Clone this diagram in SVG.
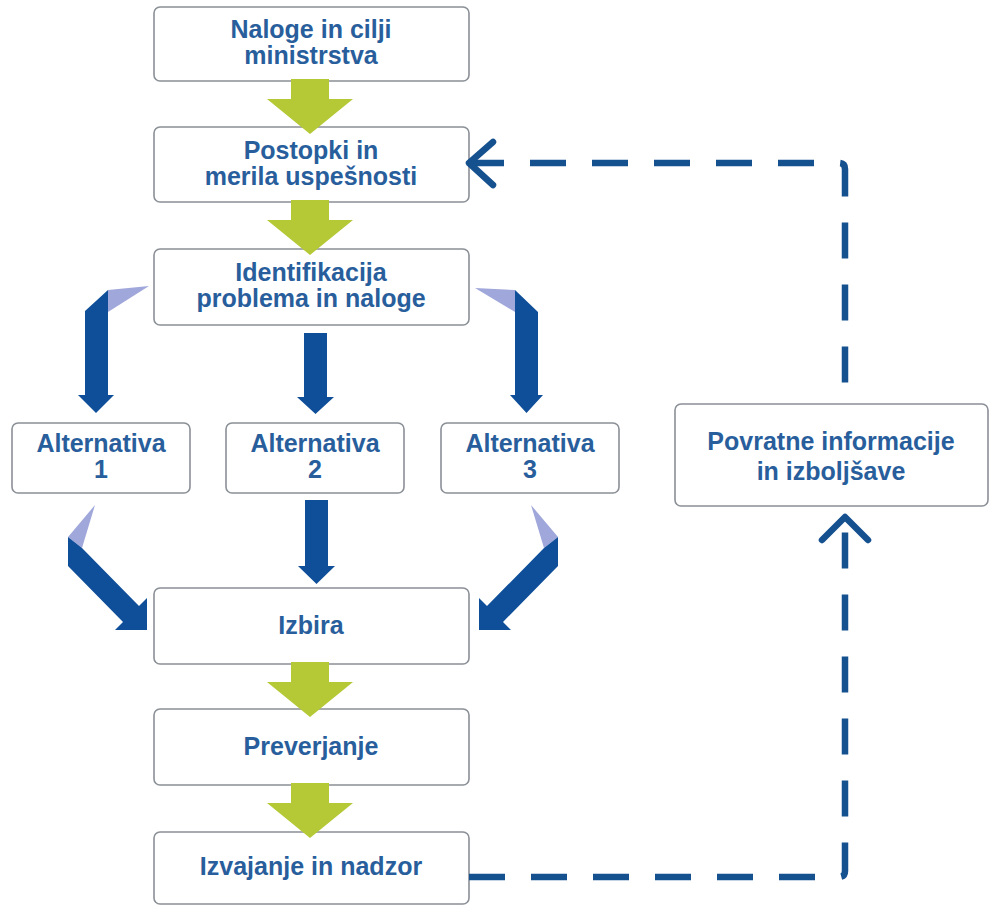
<svg xmlns="http://www.w3.org/2000/svg" width="996" height="906" viewBox="0 0 996 906">
  <style>
    .box { fill: #ffffff; stroke: #8b9097; stroke-width: 1.6; }
    .lbl { font-family: "Liberation Sans", Arial, sans-serif; font-weight: bold; font-size: 25px; fill: #285e9c; text-anchor: middle; }
    .green { fill: #b5c936; }
    .blue { fill: #0f4f99; }
    .fold { fill: #a0a7da; }
    .dash { fill: none; stroke: #15508f; stroke-width: 6.5; stroke-dasharray: 36 26; }
    .chev { fill: none; stroke: #15508f; stroke-width: 6.5; stroke-linecap: round; stroke-linejoin: round; }
  </style>
  <defs>
    <!-- wide lime arrow between stacked steps; origin = top centre of shaft -->
    <path id="greenArrow" d="M-19,0 H19 V20 H43 L0,55 L-43,20 H-19 Z"/>
  </defs>
  <rect width="996" height="906" fill="#ffffff"/>

  <g id="naloge">
    <rect class="box" x="154" y="7" width="315" height="74" rx="6"/>
    <text class="lbl" x="311" y="38">Naloge in cilji</text>
    <text class="lbl" x="311" y="64">ministrstva</text>
  </g>
  <g id="postopki">
    <rect class="box" x="154" y="127" width="315" height="75" rx="6"/>
    <text class="lbl" x="311" y="159">Postopki in</text>
    <text class="lbl" x="311" y="185">merila uspešnosti</text>
  </g>
  <g id="identifikacija">
    <rect class="box" x="154" y="249" width="315" height="76" rx="6"/>
    <text class="lbl" x="311" y="281">Identifikacija</text>
    <text class="lbl" x="311" y="307">problema in naloge</text>
  </g>
  <g id="alt1">
    <rect class="box" x="12" y="423" width="178" height="70" rx="6"/>
    <text class="lbl" x="101" y="452">Alternativa</text>
    <text class="lbl" x="101" y="478">1</text>
  </g>
  <g id="alt2">
    <rect class="box" x="226" y="423" width="178" height="70" rx="6"/>
    <text class="lbl" x="315" y="452">Alternativa</text>
    <text class="lbl" x="315" y="478">2</text>
  </g>
  <g id="alt3">
    <rect class="box" x="441" y="423" width="178" height="70" rx="6"/>
    <text class="lbl" x="530" y="452">Alternativa</text>
    <text class="lbl" x="530" y="478">3</text>
  </g>
  <g id="povratne">
    <rect class="box" x="675" y="404" width="313" height="102" rx="6"/>
    <text class="lbl" x="831" y="450">Povratne informacije</text>
    <text class="lbl" x="831" y="480">in izboljšave</text>
  </g>
  <g id="izbira">
    <rect class="box" x="154" y="588" width="315" height="76" rx="6"/>
    <text class="lbl" x="311" y="634">Izbira</text>
  </g>
  <g id="preverjanje">
    <rect class="box" x="154" y="709" width="315" height="76" rx="6"/>
    <text class="lbl" x="311" y="755">Preverjanje</text>
  </g>
  <g id="izvajanje">
    <rect class="box" x="154" y="832" width="315" height="72" rx="6"/>
    <text class="lbl" x="311" y="875">Izvajanje in nadzor</text>
  </g>

  <g id="connectors">
    <!-- main sequence -->
    <use href="#greenArrow" class="green" x="310" y="79"/>
    <use href="#greenArrow" class="green" x="310" y="200"/>
    <use href="#greenArrow" class="green" x="310" y="662"/>
    <use href="#greenArrow" class="green" x="310" y="783"/>

    <!-- split into alternatives -->
    <path class="fold" d="M108,290 L149,286 L108,312 Z"/>
    <path class="blue" d="M85,311 L108,290 V395 H114 L96,413 L78,395 H85 Z"/>
    <path class="blue" d="M304,333 H327 V397 H334 L315.5,414 L297,397 H304 Z"/>
    <path class="fold" d="M475,288 L515,290 L515,312 Z"/>
    <path class="blue" d="M515,290 L538,312 V395 H543 L526.5,413 L510,395 H515 Z"/>

    <!-- alternatives merge into choice -->
    <path class="fold" d="M95,505 L68,537 L82,548 Z"/>
    <path class="blue" d="M68,537 L82,548 L139,606 L147,598 V630 H115 L123,622 L68,566 Z"/>
    <path class="blue" d="M305,500 H328 V566 H335 L316.5,584 L298,566 H305 Z"/>
    <path class="fold" d="M531,505 L558,537 L544,548 Z"/>
    <path class="blue" d="M558,537 L544,548 L487,606 L479,598 V630 H511 L503,622 L558,566 Z"/>

    <!-- feedback loop -->
    <path class="dash" d="M469,877 H839 Q845,877 845,871 V518"/>
    <polyline class="chev" points="822,540 845,517 868,540"/>
    <path class="dash" d="M468,163 H839 Q845,163 845,169 V404"/>
    <polyline class="chev" points="493,142 469,163 493,185"/>
  </g>
</svg>
